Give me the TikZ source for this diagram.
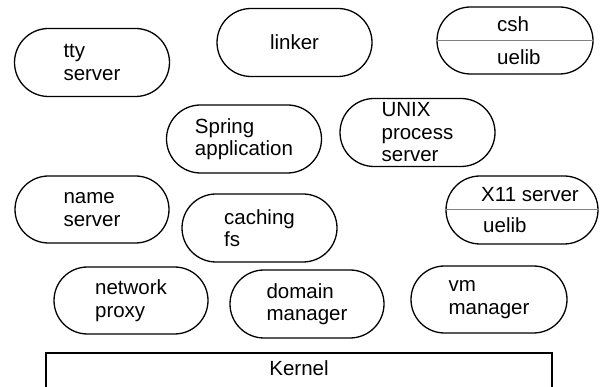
\documentclass[tikz,border=0pt]{standalone}
\usepackage{fontspec}
\setmainfont{Liberation Sans}
\usetikzlibrary{shapes.misc}

\begin{document}
\begin{tikzpicture}[x=1pt,y=-1pt,
        srv/.style={draw,rounded rectangle,line width=1.3pt,minimum width=155pt,
            minimum height=68pt,inner sep=0pt,align=left,
            font=\fontsize{20.5}{22.5}\selectfont},
        lbl/.style={anchor=west,inner sep=0pt,font=\fontsize{20.5}{22.5}\selectfont},
        divider/.style={draw=gray,line width=1pt}]

        \useasboundingbox (0,0) rectangle (600,387);

        % Top row of servers
        \node[srv] (tty) at (92,62.5) {tty\\server};
        \node[srv] (linker) at (294.5,42.5) {linker};
        \node[srv,minimum width=156pt,minimum height=67pt] (csh) at (515,40.5) {};
        \draw[divider] (csh.west) -- (csh.east); % csh above uelib
        \node[lbl] (cshtop) at (497,24) {csh};
        \node[lbl] (cshbot) at (497,57) {uelib};

        % Second row
        \node[srv] (spring) at (244,139) {Spring\\application};
        \node[srv] (unix) at (417.5,132.5) {UNIX\\process\\server};

        % Third row
        \node[srv,minimum width=154pt,minimum height=67pt] (name) at (92,209.5) {name\\server};
        \node[srv] (caching) at (259.5,228) {caching\\fs};
        \node[srv,minimum width=152pt] (xserver) at (522,210) {};
        \draw[divider] (xserver.west) -- (xserver.east); % X11 server above uelib
        \node[lbl] (xtop) at (481,195) {X11 server};
        \node[lbl] (xbot) at (483,225) {uelib};

        % Bottom row of managers
        \node[srv,minimum width=154pt,minimum height=67pt] (proxy) at (131,300.5) {network\\proxy};
        \node[srv,minimum width=154pt] (domain) at (307,304) {domain\\manager};
        \node[srv,minimum width=156pt,minimum height=67pt] (vm) at (489,299.5) {vm\\manager};

        % Kernel box, open at the bottom
        \coordinate (K1) at (46,390);
        \coordinate (K2) at (46,353);
        \coordinate (K3) at (552,353);
        \coordinate (K4) at (552,390);
        \draw[line width=1.6pt] (K1) -- (K2) -- (K3) -- (K4);
        \node[font=\fontsize{20.5}{22.5}\selectfont] (kernel) at (299,368) {Kernel};
    \end{tikzpicture}
\end{document}
